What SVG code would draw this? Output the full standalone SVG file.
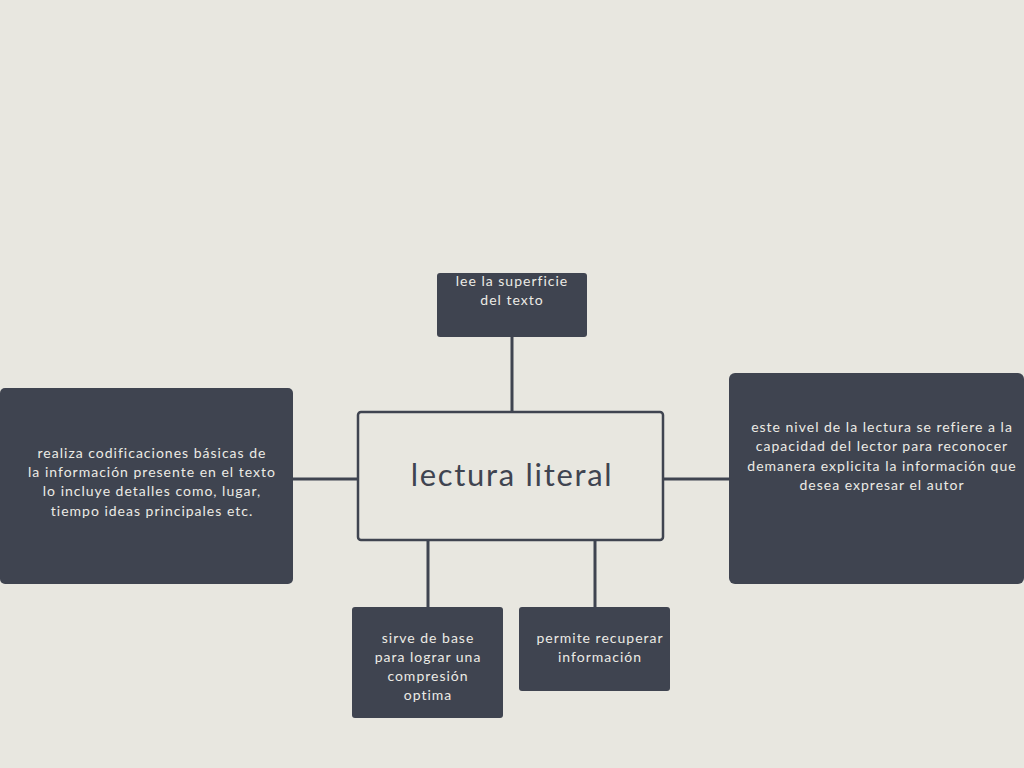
<svg xmlns="http://www.w3.org/2000/svg" width="1024" height="768" viewBox="0 0 1024 768">
<style>
.bg{fill:#e8e7e0}
.box{fill:#3f4450}
.main{fill:#e8e7e0;stroke:#3f4450;stroke-width:2.5}
.conn line{stroke:#3f4450;stroke-width:3}
.t{font-family:Lato,"Open Sans","Liberation Sans",sans-serif;font-size:14px;letter-spacing:1px;fill:#ecebe5;text-anchor:middle}
.tm{font-family:Lato,"Open Sans","Liberation Sans",sans-serif;font-size:31px;letter-spacing:1.7px;fill:#3f4450;text-anchor:middle}
</style>
<rect class="bg" x="0" y="0" width="1024" height="768"/>
<g id="connectors" class="conn">
<line x1="512" y1="337" x2="512" y2="412"/>
<line x1="293" y1="479" x2="358" y2="479"/>
<line x1="663" y1="479" x2="729" y2="479"/>
<line x1="428" y1="540" x2="428" y2="607"/>
<line x1="595" y1="540" x2="595" y2="607"/>
</g>
<g id="center">
<rect class="main" x="358" y="412" width="305" height="128" rx="3"/>
<text class="tm" x="512" y="486">lectura literal</text>
</g>
<g id="top">
<rect class="box" x="437" y="273" width="150" height="64" rx="3"/>
<text class="t" x="512" y="286">lee la superficie</text>
<text class="t" x="512" y="305">del texto</text>
</g>
<g id="left">
<rect class="box" x="0" y="388" width="293" height="196" rx="5"/>
<text class="t" x="152" y="458">realiza codificaciones básicas de</text>
<text class="t" x="152" y="477">la información presente en el texto</text>
<text class="t" x="152" y="496">lo incluye detalles como, lugar,</text>
<text class="t" x="152" y="516">tiempo ideas principales etc.</text>
</g>
<g id="right">
<rect class="box" x="729" y="373" width="295" height="211" rx="6"/>
<text class="t" x="882" y="432">este nivel de la lectura se refiere a la</text>
<text class="t" x="882" y="451">capacidad del lector para reconocer</text>
<text class="t" x="882" y="471">demanera explicita la información que</text>
<text class="t" x="882" y="490">desea expresar el autor</text>
</g>
<g id="bottom-left">
<rect class="box" x="352" y="607" width="151" height="111" rx="3"/>
<text class="t" x="428" y="643">sirve de base</text>
<text class="t" x="428" y="662">para lograr una</text>
<text class="t" x="428" y="681">compresión</text>
<text class="t" x="428" y="700">optima</text>
</g>
<g id="bottom-right">
<rect class="box" x="519" y="607" width="151" height="84" rx="3"/>
<text class="t" x="600" y="643">permite recuperar</text>
<text class="t" x="600" y="662">información</text>
</g>
</svg>
